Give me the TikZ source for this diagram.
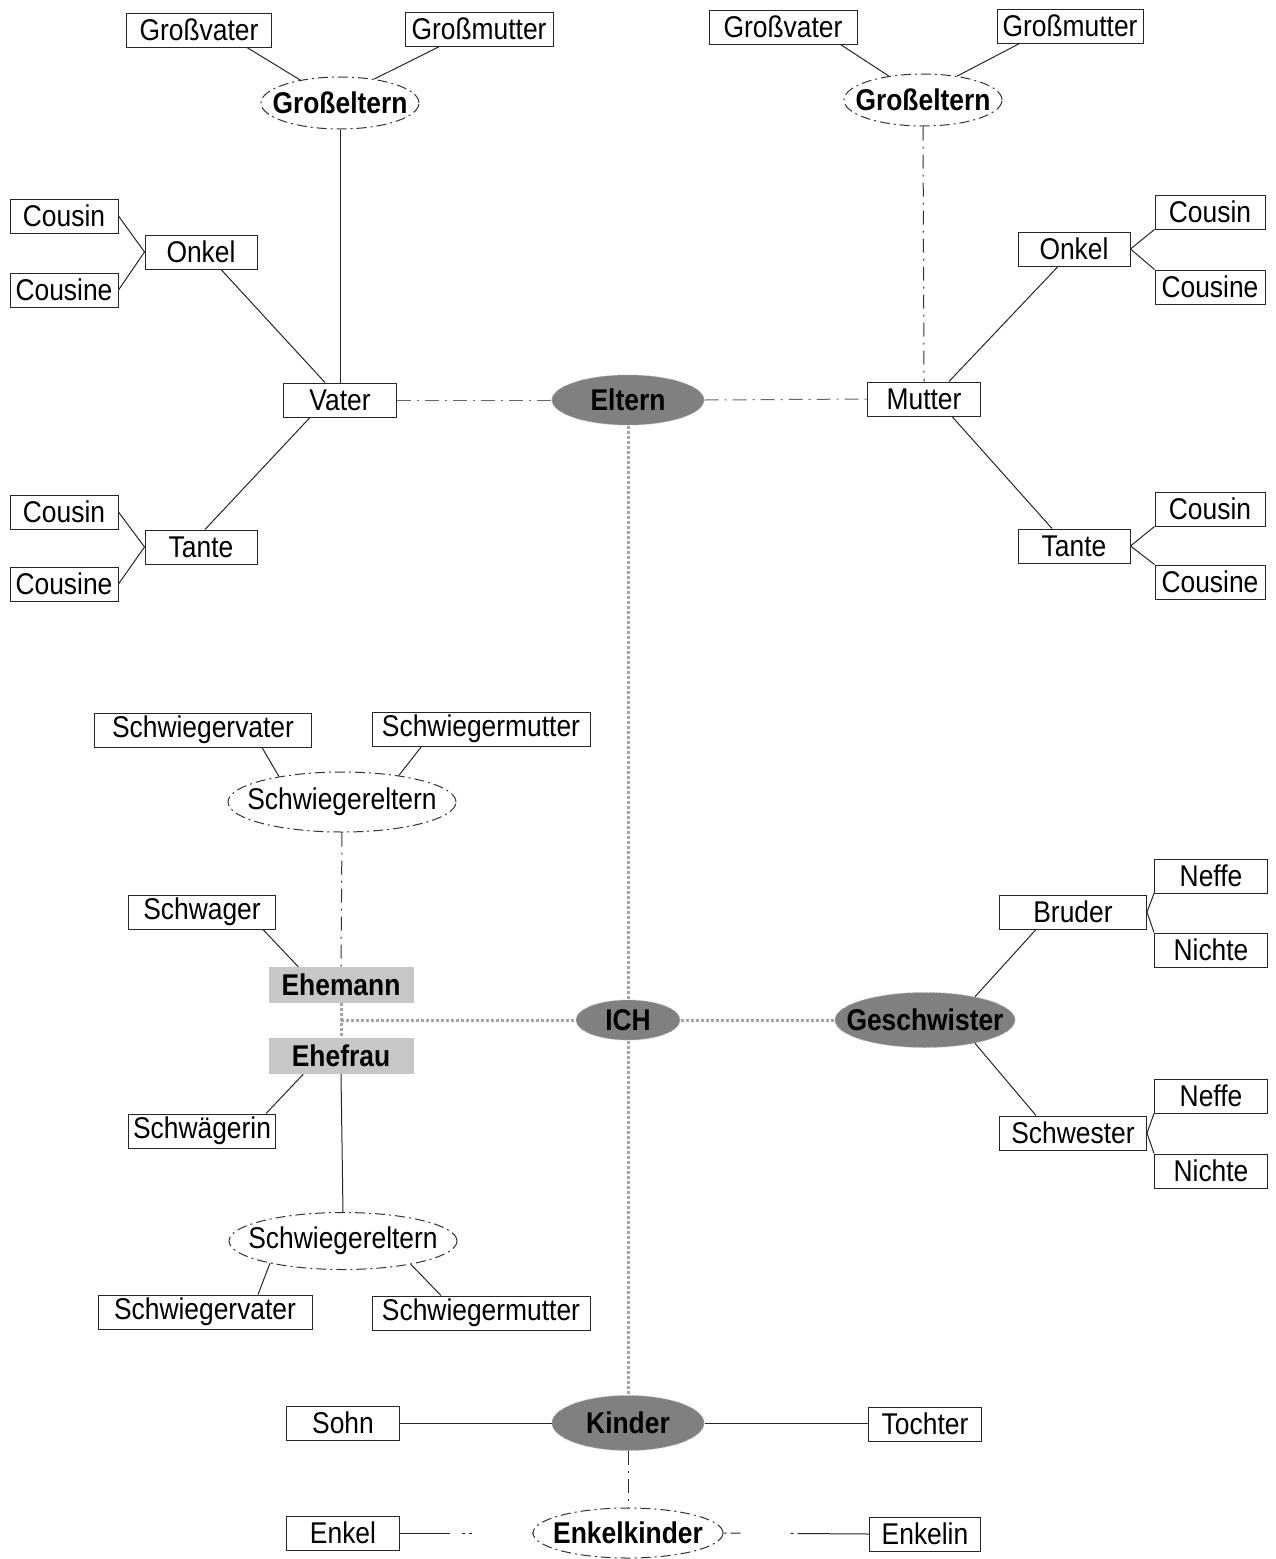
\documentclass[tikz,border=0pt]{standalone}
\usepackage{fontspec}
\setmainfont{Liberation Sans}[FakeStretch=0.88]
\usetikzlibrary{shapes.geometric}
\tikzset{
  box/.style={rectangle, draw=black!85, line width=1pt, inner sep=0pt, minimum height=34pt, font=\fontsize{30}{36}\selectfont},
  oval/.style={ellipse, draw=black!80, line width=1pt, dash pattern=on 10pt off 4pt on 2pt off 4pt, inner ysep=0pt, inner xsep=-22pt, font=\fontsize{30}{36}\selectfont},
  dark/.style={ellipse, fill=black!50, draw=black!35, line width=1pt, dotted, inner ysep=0pt, inner xsep=-22pt, font=\fontsize{30}{36}\selectfont\bfseries},
  light/.style={rectangle, fill=black!22, inner sep=0pt, minimum height=36pt, font=\fontsize{30}{36}\selectfont\bfseries},
  link/.style={line width=1pt, draw=black!85},
  dlink/.style={line width=1pt, draw=black!80, dash pattern=on 14pt off 6pt on 2pt off 6pt},
  glink/.style={line width=3pt, draw=black!35, dash pattern=on 3pt off 2pt},
}
\begin{document}
\begin{tikzpicture}[x=1pt,y=-1pt]
\useasboundingbox (0,0) rectangle (1276,1559);
\fill[white] (0,0) rectangle (1276,1559);

% ---- left grandparents
\node[box, minimum width=145pt] (gv1) at (199,30) {Großvater};
\node[box, minimum width=148pt] (gm1) at (479,29) {Großmutter};
\node[oval, font=\fontsize{30}{36}\selectfont\bfseries, minimum width=158pt, minimum height=52pt] (ge1) at (340,103) {Großeltern};
\node[box, minimum width=108pt] (c1) at (64,216) {Cousin};
\node[box, minimum width=108pt] (ce1) at (64,290) {Cousine};
\node[box, minimum width=112pt] (onkel1) at (201,252) {Onkel};
\node[box, minimum width=113pt] (vater) at (340,400) {Vater};
\node[box, minimum width=112pt] (tante1) at (201,547) {Tante};
\node[box, minimum width=108pt] (c2) at (64,512) {Cousin};
\node[box, minimum width=108pt] (ce2) at (64,584) {Cousine};

% ---- right grandparents
\node[box, minimum width=148pt] (gv2) at (783,27) {Großvater};
\node[box, minimum width=146pt] (gm2) at (1070,26) {Großmutter};
\node[oval, font=\fontsize{30}{36}\selectfont\bfseries, minimum width=158pt, minimum height=52pt] (ge2) at (923,100) {Großeltern};
\node[box, minimum width=113pt] (mutter) at (924,399) {Mutter};
\node[box, minimum width=112pt] (onkel2) at (1074,249) {Onkel};
\node[box, minimum width=110pt] (c3) at (1210,212) {Cousin};
\node[box, minimum width=110pt] (ce3) at (1210,287) {Cousine};
\node[box, minimum width=112pt] (tante2) at (1074,546) {Tante};
\node[box, minimum width=110pt] (c4) at (1210,509) {Cousin};
\node[box, minimum width=110pt] (ce4) at (1210,582) {Cousine};

% ---- centre
\node[dark, minimum width=152pt, minimum height=50pt] (eltern) at (628,400) {Eltern};
\node[dark, minimum width=104pt, minimum height=40pt] (ich) at (628,1020) {ICH};
\node[dark, minimum width=180pt, minimum height=55pt] (gesch) at (925,1020) {Geschwister};
\node[dark, minimum width=152pt, minimum height=55pt] (kinder) at (628,1423) {Kinder};
\node[oval, font=\fontsize{30}{36}\selectfont\bfseries, minimum width=190pt, minimum height=50pt] (enkelkinder) at (628,1533) {Enkelkinder};

% ---- in-laws
\node[box, minimum width=217pt] (sv1) at (203,730) {Schwiegervater};
\node[box, minimum width=218pt] (sm1) at (481,729) {Schwiegermutter};
\node[oval, minimum width=228pt, minimum height=60pt] (se1) at (342,802) {Schwiegereltern};
\node[box, minimum width=147pt] (schwager) at (202,912) {Schwager};
\node[light, minimum width=145pt] (ehemann) at (341,985) {Ehemann};
\node[light, minimum width=145pt] (ehefrau) at (341,1056) {Ehefrau};
\node[box, minimum width=147pt] (schwaegerin) at (202,1131) {Schwägerin};
\node[oval, minimum width=228pt, minimum height=57pt] (se2) at (343,1241) {Schwiegereltern};
\node[box, minimum width=214pt] (sv2) at (205,1312) {Schwiegervater};
\node[box, minimum width=218pt] (sm2) at (481,1313) {Schwiegermutter};
\coordinate (ej) at (341,1020);

% ---- siblings
\node[box, minimum width=147pt] (bruder) at (1073,912) {Bruder};
\node[box, minimum width=113pt] (neffe1) at (1211,876) {Neffe};
\node[box, minimum width=113pt] (nichte1) at (1211,950) {Nichte};
\node[box, minimum width=147pt] (schwester) at (1073,1133) {Schwester};
\node[box, minimum width=113pt] (neffe2) at (1211,1096) {Neffe};
\node[box, minimum width=113pt] (nichte2) at (1211,1171) {Nichte};

% ---- children
\node[box, minimum width=113pt] (sohn) at (343,1423) {Sohn};
\node[box, minimum width=113pt] (tochter) at (925,1424) {Tochter};
\node[box, minimum width=113pt] (enkel) at (343,1533) {Enkel};
\node[box, minimum width=111pt] (enkelin) at (925,1534) {Enkelin};

% ===== connectors
\draw[link] ([xshift=-25pt]gv1.south east) -- (ge1.150);
\draw[link] ([xshift=35pt]gm1.south west) -- (ge1.35);
\draw[link] (ge1.south) -- (vater.north);
\draw[link] (c1.east) -- (onkel1.west);
\draw[link] (ce1.east) -- (onkel1.west);
\draw[link] ([xshift=20pt]onkel1.south) -- ([xshift=-15pt]vater.north);
\draw[link] ([xshift=-30pt]vater.south) -- ([xshift=4pt]tante1.north);
\draw[link] (c2.east) -- (tante1.west);
\draw[link] (ce2.east) -- (tante1.west);
\draw[dlink, draw=black!60] (vater.east) -- (eltern.west);
\draw[dlink, draw=black!60] (eltern.east) -- (mutter.west);

\draw[link] ([xshift=-17pt]gv2.south east) -- (ge2.145);
\draw[link] ([xshift=23pt]gm2.south west) -- (ge2.35);
\draw[dlink] (ge2.south) -- (mutter.north);
\draw[link] ([xshift=25pt]mutter.north) -- ([xshift=-16pt]onkel2.south);
\draw[link] ([xshift=28pt]mutter.south) -- ([xshift=-22pt]tante2.north);
\draw[link] (onkel2.east) -- (c3.south west);
\draw[link] (onkel2.east) -- (ce3.north west);
\draw[link] (tante2.east) -- (c4.south west);
\draw[link] (tante2.east) -- (ce4.north west);

\draw[glink] (eltern.south) -- (ich.north);
\draw[glink] (ich.south) -- (kinder.north);
\draw[glink] (ich.east) -- (gesch.west);
\draw[glink] (ehemann.south) -- (ehefrau.north);
\draw[glink] (ej) -- (ich.west);

\draw[link] ([xshift=-50pt]sv1.south east) -- (se1.158);
\draw[link] ([xshift=50pt]sm1.south west) -- (se1.25);
\draw[dlink] (se1.south) -- (ehemann.north);
\draw[link] ([xshift=-13pt]schwager.south east) -- ([xshift=30pt]ehemann.north west);
\draw[link] ([xshift=-10pt]schwaegerin.north east) -- ([xshift=35pt]ehefrau.south west);
\draw[link] (ehefrau.south) -- (se2.north);
\draw[link] (se2.197) -- ([xshift=53pt]sv2.north);
\draw[link] (se2.-19) -- ([xshift=-40pt]sm2.north);

\draw[link] ([xshift=-37pt]bruder.south) -- (gesch.25);
\draw[link] (bruder.east) -- (neffe1.south west);
\draw[link] (bruder.east) -- (nichte1.north west);
\draw[link] (gesch.-25) -- ([xshift=-37pt]schwester.north);
\draw[link] (schwester.east) -- (neffe2.south west);
\draw[link] (schwester.east) -- (nichte2.north west);

\draw[link] (sohn.east) -- (kinder.west);
\draw[link] (kinder.east) -- (kinder.east -| tochter.west);
\draw[dlink] (kinder.south) -- (enkelkinder.north);
\draw[link, dash pattern=on 50pt off 12pt on 3pt off 4pt on 3pt off 60pt] (enkel.east) -- (enkelkinder.west);
\draw[link, dash pattern=on 3pt off 4pt on 10pt off 50pt on 3pt off 4pt on 100pt] (enkelkinder.east) -- (enkelin.west);
\end{tikzpicture}
\end{document}
